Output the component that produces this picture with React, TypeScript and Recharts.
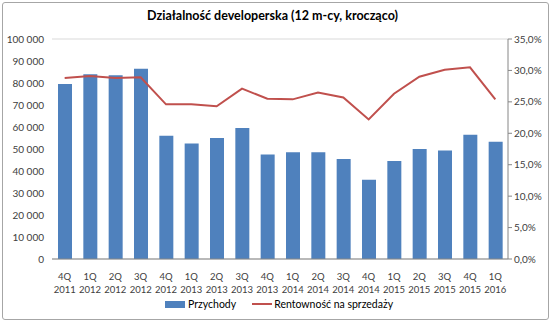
import React from "react";
import {
  Bar,
  CartesianGrid,
  ComposedChart,
  Line,
  XAxis,
  YAxis,
} from "recharts";

const quarters = ["4Q", "1Q", "2Q", "3Q", "4Q", "1Q", "2Q", "3Q", "4Q", "1Q", "2Q", "3Q", "4Q", "1Q", "2Q", "3Q", "4Q", "1Q"];
const years = ["2011", "2012", "2012", "2012", "2012", "2013", "2013", "2013", "2013", "2014", "2014", "2014", "2014", "2015", "2015", "2015", "2015", "2016"];
const revenue = [79500, 84000, 83500, 86500, 56000, 52500, 55000, 59500, 47500, 48500, 48500, 45500, 36000, 44500, 50000, 49300, 56500, 53300];
const margin = [28.8, 29.1, 28.8, 28.9, 24.6, 24.6, 24.3, 27.1, 25.5, 25.4, 26.5, 25.7, 22.2, 26.3, 29.0, 30.1, 30.5, 25.4];
const leftTicks = [0, 10000, 20000, 30000, 40000, 50000, 60000, 70000, 80000, 90000, 100000];
const rightTicks = [0, 5, 10, 15, 20, 25, 30, 35];

const data = quarters.map((q, i) => ({
  key: i,
  q,
  year: years[i],
  revenue: revenue[i],
  margin: margin[i],
}));

const FONT = "Lato, 'Open Sans', sans-serif";
const TEXT = "#404040";

const fmtThousands = (v: number) =>
  String(v).replace(/\B(?=(\d{3})+(?!\d))/g, "\u00a0");

function QuarterTick({ x, y, payload }: any) {
  const d = data[payload.value];
  return (
    <g transform={`translate(${x},${y})`}>
      <text textAnchor="middle" fontSize={9.5} fill={TEXT} fontFamily={FONT}>
        <tspan x={0} dy={13}>{d.q}</tspan>
        <tspan x={0} dy={13}>{d.year}</tspan>
      </text>
    </g>
  );
}

function LeftTick({ x, y, payload }: any) {
  return (
    <text x={x} y={y} dy={3.5} textAnchor="end" fontSize={10} fill={TEXT} fontFamily={FONT}>
      {fmtThousands(payload.value)}
    </text>
  );
}

export default function App() {
  return (
    <div
      style={{
        position: "absolute",
        left: 0,
        top: 0,
        width: 552,
        height: 325,
        background: "#fff",
        fontFamily: FONT,
      }}
    >
      <div
        style={{
          position: "absolute",
          left: 2,
          top: 2,
          width: 545,
          height: 316,
          border: "1px solid #a6a6a6",
          borderRadius: 3,
        }}
      />
      <div
        style={{
          position: "absolute",
          left: 0,
          top: 8,
          width: 545,
          textAlign: "center",
          fontWeight: 700,
          fontSize: 12.5,
          color: "#000",
        }}
      >
        Działalność developerska (12 m-cy, krocząco)
      </div>

      <div style={{ position: "absolute", left: 0, top: 0 }}>
        <ComposedChart
          width={552}
          height={325}
          data={data}
          margin={{ top: 39, right: 4, bottom: 36, left: 2 }}
        >
          <CartesianGrid vertical={false} stroke="#d9d9d9" />
          <XAxis
            dataKey="key"
            tick={<QuarterTick />}
            tickLine={false}
            axisLine={{ stroke: "#868686" }}
            height={30}
            interval={0}
          />
          <YAxis
            yAxisId="left"
            domain={[0, 100000]}
            ticks={leftTicks}
            tick={<LeftTick />}
            axisLine={false}
            tickLine={false}
            width={50}
            interval={0}
          />
          <YAxis
            yAxisId="right"
            orientation="right"
            domain={[0, 35]}
            ticks={rightTicks}
            tickFormatter={(v: number) => `${v.toFixed(1).replace(".", ",")}%`}
            tick={{ fontSize: 10, fill: TEXT, fontFamily: FONT }}
            axisLine={{ stroke: "#868686" }}
            tickLine={{ stroke: "#868686" }}
            tickSize={4}
            width={40}
            interval={0}
          />
          <Bar
            yAxisId="left"
            dataKey="revenue"
            fill="#4f81bd"
            barSize={14}
            isAnimationActive={false}
          />
          <Line
            yAxisId="right"
            dataKey="margin"
            stroke="#c0504d"
            strokeWidth={2}
            dot={false}
            type="linear"
            isAnimationActive={false}
          />
        </ComposedChart>
      </div>

      <div
        style={{
          position: "absolute",
          left: 165,
          top: 298,
          display: "flex",
          alignItems: "center",
          fontSize: 10.5,
          color: "#000",
        }}
      >
        <span style={{ display: "inline-block", width: 20, height: 7, background: "#4f81bd", marginRight: 3 }} />
        <span>Przychody</span>
        <span style={{ display: "inline-block", width: 20, height: 2, background: "#c0504d", marginLeft: 16, marginRight: 2 }} />
        <span>Rentowność na sprzedaży</span>
      </div>
    </div>
  );
}
